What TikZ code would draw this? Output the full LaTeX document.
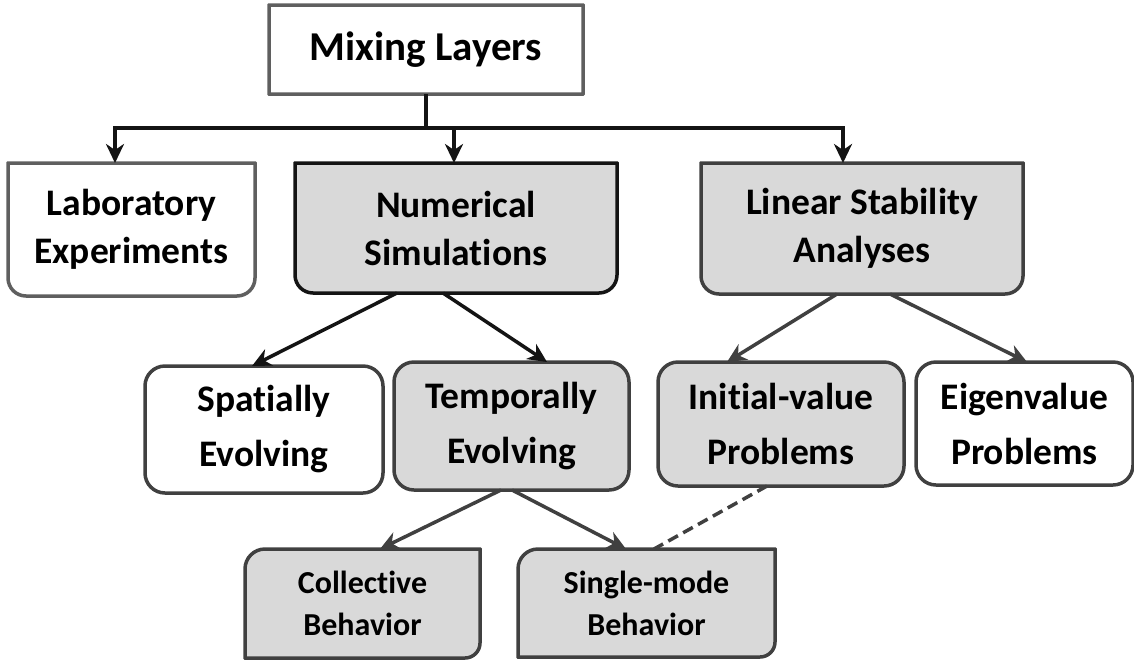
\documentclass[tikz,border=0pt]{standalone}
\usepackage{fontspec}
\setmainfont{Carlito}[Ligatures=NoCommon]
\usetikzlibrary{arrows.meta,backgrounds}

\definecolor{boxfill}{HTML}{D9D9D9}
\definecolor{edgegray}{HTML}{5F5F5F}
\definecolor{edgedark}{HTML}{404040}
\definecolor{inkblack}{HTML}{141414}

% Outline of a box with its own radius at each corner:
% #1 node, #2 path style, #3 top-left, #4 top-right, #5 bottom-right, #6 bottom-left
\newcommand{\panel}[6]{%
  \path[#2] ([xshift=#3]#1.north west) -- ([xshift=-#4]#1.north east)
    arc[start angle=90,end angle=0,radius=#4]
    -- ([yshift=#5]#1.south east)
    arc[start angle=0,end angle=-90,radius=#5]
    -- ([xshift=#6]#1.south west)
    arc[start angle=270,end angle=180,radius=#6]
    -- ([yshift=-#3]#1.north west)
    arc[start angle=180,end angle=90,radius=#3] -- cycle;}

\tikzset{
  holder/.style={rectangle, draw=none, inner sep=0pt, outer sep=0pt,
    align=center, font=\bfseries\fontsize{37.5}{48}\selectfont},
  lowholder/.style={holder, font=\bfseries\fontsize{32}{42}\selectfont},
  whitebox/.style={fill=white, draw=edgegray, line width=3.5pt},
  graybox/.style={fill=boxfill, draw=edgedark, line width=3.5pt},
  blackbox/.style={fill=boxfill, draw=inkblack, line width=3.5pt},
  trunk/.style={draw=inkblack, line width=3.5pt},
  tip/.style={-{Stealth[length=19pt,width=18pt,inset=6pt]}},
  blackarrow/.style={trunk, tip},
  grayarrow/.style={draw=edgedark, line width=3.5pt, tip},
  dashlink/.style={draw=edgedark, line width=3.5pt, dash pattern=on 11pt off 6pt}
}

\begin{document}
\begin{tikzpicture}[x=1pt, y=-1pt]
\useasboundingbox (0,0) rectangle (1134,662);

% top of the tree
\node[holder, minimum width=314pt, minimum height=89pt,
      font=\bfseries\fontsize{41}{48}\selectfont] (mix) at (426,49.5) {Mixing Layers};

% first level
\node[holder, minimum width=247pt, minimum height=133pt] (lab) at (131.5,229.5) {Laboratory\\Experiments};
\node[holder, minimum width=322pt, minimum height=130pt] (num) at (456,228) {Numerical\\Simulations};
\node[holder, minimum width=322pt, minimum height=131pt] (lin) at (862,228.5) {Linear Stability\\Analyses};

% second level
\node[holder, minimum width=238pt, minimum height=127pt,
      font=\bfseries\fontsize{37.5}{55}\selectfont] (spa) at (264,429.5) {Spatially\\Evolving};
\node[holder, minimum width=235pt, minimum height=128pt,
      font=\bfseries\fontsize{37.5}{55}\selectfont] (tem) at (511.5,426) {Temporally\\Evolving};
\node[holder, minimum width=246pt, minimum height=124pt,
      font=\bfseries\fontsize{37.5}{55}\selectfont] (ini) at (781,424) {Initial-value\\Problems};
\node[holder, minimum width=217pt, minimum height=123pt,
      font=\bfseries\fontsize{37.5}{55}\selectfont] (eig) at (1024.5,423.5) {Eigenvalue\\Problems};

% third level
\node[lowholder, minimum width=235pt, minimum height=109pt] (col) at (362.5,603.5) {Collective\\Behavior};
\node[lowholder, minimum width=257pt, minimum height=108pt] (sin) at (646.5,603) {Single-mode\\Behavior};

\begin{pgfonlayer}{background}
  \panel{mix}{whitebox}{0.01pt}{0.01pt}{0.01pt}{0.01pt}
  \panel{lab}{whitebox}{0.01pt}{0.01pt}{18pt}{18pt}
  \panel{num}{blackbox}{0.01pt}{0.01pt}{18pt}{18pt}
  \panel{lin}{graybox}{0.01pt}{0.01pt}{18pt}{18pt}
  \panel{spa}{graybox,fill=white}{20pt}{20pt}{20pt}{20pt}
  \panel{tem}{graybox}{20pt}{20pt}{20pt}{20pt}
  \panel{ini}{graybox}{20pt}{20pt}{20pt}{20pt}
  \panel{eig}{graybox,fill=white}{20pt}{20pt}{20pt}{20pt}
  \panel{col}{graybox}{20pt}{0.01pt}{15pt}{0.01pt}
  \panel{sin}{graybox}{20pt}{0.01pt}{15pt}{0.01pt}
\end{pgfonlayer}

% branching from the top box
\coordinate (hub) at (426,128);
\draw[trunk] (mix.south) -- (hub);
\draw[blackarrow] (hub) -| ([xshift=-16.5pt]lab.north);
\draw[blackarrow] (hub) -| ([xshift=-2pt]num.north);
\draw[blackarrow] (hub) -| ([xshift=-19pt]lin.north);

% numerical simulations
\draw[blackarrow] ([xshift=-59pt]num.south) -- ([xshift=-12pt]spa.north);
\draw[blackarrow] ([xshift=-13pt]num.south) -- ([xshift=35.5pt]tem.north);

% linear stability analyses
\draw[grayarrow] ([xshift=-25pt]lin.south) -- ([xshift=-54pt]ini.north);
\draw[grayarrow] ([xshift=28pt]lin.south) -- ([xshift=2.5pt]eig.north);

% temporally evolving
\draw[grayarrow] ([xshift=-10.5pt]tem.south) -- ([xshift=17.5pt]col.north);
\draw[grayarrow] ([xshift=0.5pt]tem.south) -- ([xshift=-20.5pt]sin.north);

% link between the two approaches
\draw[dashlink] ([xshift=-14pt]ini.south) -- ([xshift=7.5pt]sin.north);
\end{tikzpicture}
\end{document}
